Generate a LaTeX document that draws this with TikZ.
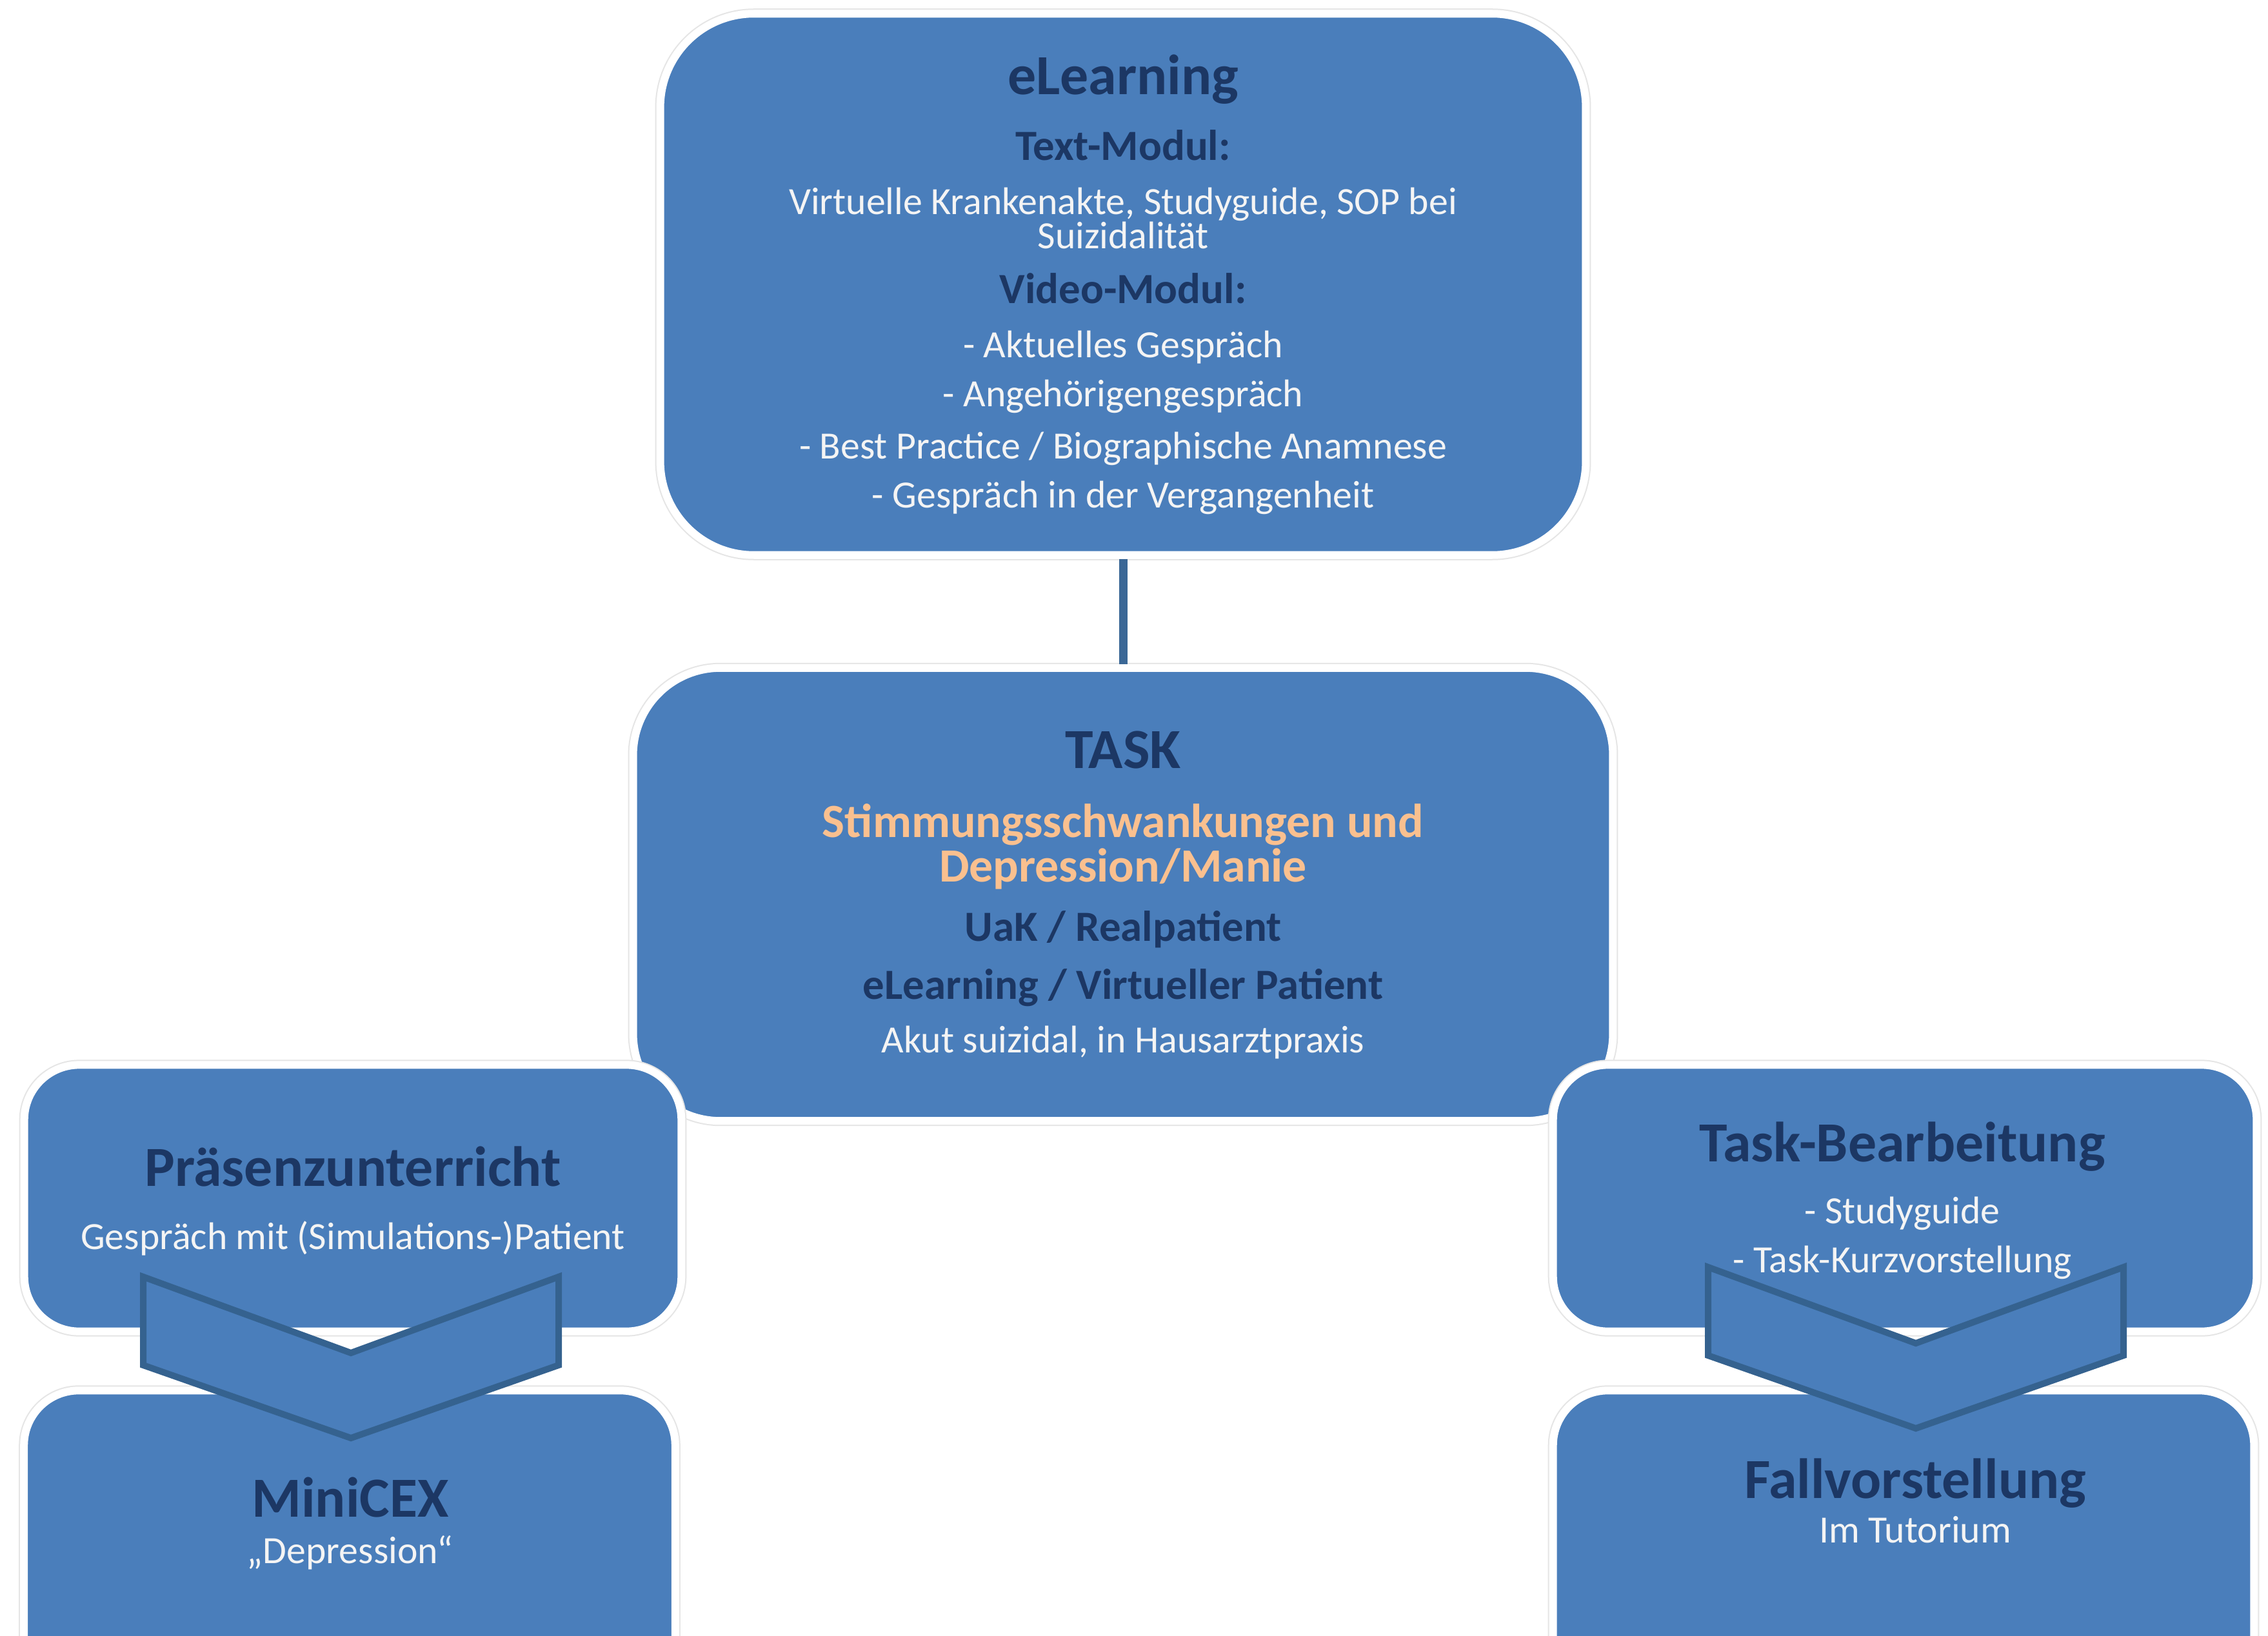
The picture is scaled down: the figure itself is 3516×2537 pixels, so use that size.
\documentclass[tikz,border=0pt]{standalone}
\usepackage{fontspec}
\setmainfont{Carlito}
\definecolor{boxblue}{HTML}{4A7EBB}
\definecolor{navytext}{HTML}{1C3764}
\definecolor{peach}{HTML}{FAC08F}
\definecolor{palewhite}{HTML}{F4F4F4}
\definecolor{linkblue}{HTML}{3A6796}
\definecolor{chevronline}{HTML}{35628F}

\begin{document}
\begin{tikzpicture}[x=0.01cm, y=-0.01cm,
  box/.style={rectangle, rounded corners=#1, fill=boxblue, draw=white, line width=0.12cm,
    preaction={draw=gray!20, line width=0.16cm}, inner sep=0pt},
  box/.default=1.4cm,
  headtxt/.style={font=\fontsize{25}{30}\selectfont\bfseries, text=navytext},
  subtxt/.style={font=\fontsize{19}{23}\selectfont\bfseries, text=navytext},
  accenttxt/.style={font=\fontsize{21}{25}\selectfont\bfseries, text=peach},
  bodytxt/.style={font=\fontsize{17}{20}\selectfont, text=palewhite},
  every node/.append style={text height=0.6em, text depth=0.47em}]
  \fill[white] (0,0) rectangle (3516,2537);
  \useasboundingbox (0,0) rectangle (3516,2537);
  \clip (0,0) rectangle (3516,2537);

  % upper part
  \node[box=1.45cm, minimum width=14.34cm, minimum height=8.39cm] (elearn) at (1741,441) {};
  \node[box=1.35cm, minimum width=15.18cm, minimum height=7.02cm] (task) at (1741,1387) {};
  \draw[linkblue, line width=0.13cm] (elearn.south) -- (task.north);

  \foreach \y/\st/\txt [count=\i] in {144/headtxt/{eLearning}, 246/subtxt/{Text-Modul:},
      330/bodytxt/{Virtuelle Krankenakte, Studyguide, SOP bei}, 383/bodytxt/{Suizidalität},
      468/subtxt/{Video-Modul:}, 552/bodytxt/{- Aktuelles Gespräch},
      628/bodytxt/{- Angehörigengespräch}, 709/bodytxt/{- Best Practice / Biographische Anamnese},
      785/bodytxt/{- Gespräch in der Vergangenheit}}
    \node[\st] (el\i) at (1741,\y) {\txt};

  \foreach \y/\st/\txt [count=\i] in {1189/headtxt/{TASK}, 1296/accenttxt/{Stimmungsschwankungen und},
      1365/accenttxt/{Depression/Manie}, 1457/subtxt/{UaK / Realpatient},
      1547/subtxt/{eLearning / Virtueller Patient}, 1630/bodytxt/{Akut suizidal, in Hausarztpraxis}}
    \node[\st] (tk\i) at (1741,\y) {\txt};

  % side boxes
  \node[box=0.85cm, minimum width=10.18cm, minimum height=4.13cm] (praes) at (547,1858) {};
  \node[box=0.85cm, minimum width=10.90cm, minimum height=4.13cm] (bearb) at (2953,1858) {};
  \node[box=0.85cm, minimum width=10.09cm, minimum height=6.43cm] (minicex) at (542,2478) {};
  \node[box=0.85cm, minimum width=10.86cm, minimum height=6.43cm] (fallvor) at (2951,2478) {};

  \node[headtxt] (praestitle) at (547,1837) {Präsenzunterricht};
  \node[bodytxt] (praestext) at (547,1935) {Gespräch mit (Simulations-)Patient};
  \node[headtxt] (bearbtitle) at (2949,1799) {Task-Bearbeitung};
  \node[bodytxt] (bearbone) at (2949,1895) {- Studyguide};
  \node[bodytxt] (bearbtwo) at (2949,1971) {- Task-Kurzvorstellung};
  \node[headtxt] (minititle) at (543,2350) {MiniCEX};
  \node[bodytxt] (minitext) at (543,2422) {„Depression“};
  \node[headtxt] (falltitle) at (2969,2321) {Fallvorstellung};
  \node[bodytxt] (falltext) at (2969,2390) {Im Tutorium};

  % chevrons
  \foreach \cx/\ty in {544/1980, 2970/1965}
    \draw[fill=boxblue, draw=chevronline, line width=0.1cm, line join=miter]
      ({\cx-322},\ty) -- (\cx,{\ty+118}) -- ({\cx+322},\ty) -- ({\cx+322},{\ty+137})
      -- (\cx,{\ty+250}) -- ({\cx-322},{\ty+137}) -- cycle;
\end{tikzpicture}
\end{document}
